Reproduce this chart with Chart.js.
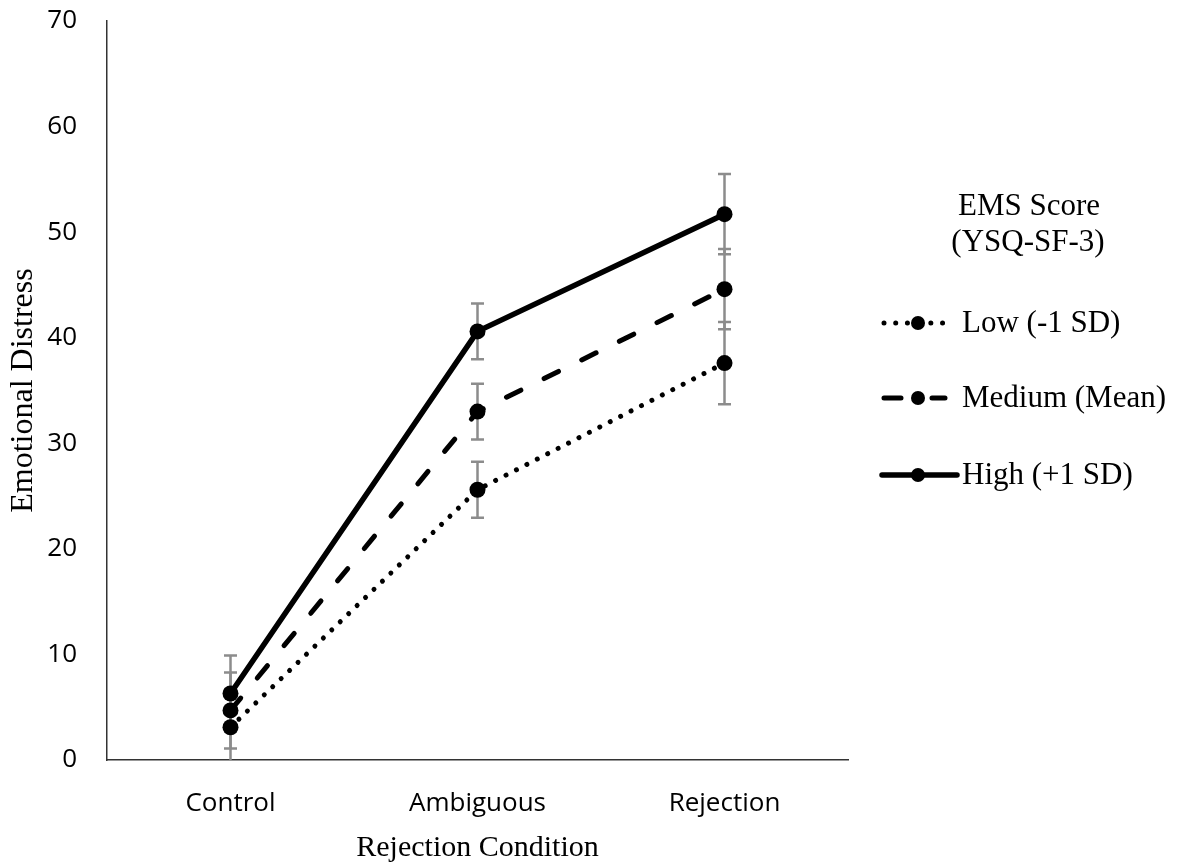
<!DOCTYPE html>
<html>
<head>
<meta charset="utf-8">
<script src="https://cdn.jsdelivr.net/npm/chart.js@4.4.1/dist/chart.umd.min.js"></script>
<style>
  html, body { margin: 0; padding: 0; background: #ffffff; }
  #wrap { width: 1189px; height: 865px; position: relative; }
</style>
</head>
<body>
<div id="wrap"><canvas id="c" width="1189" height="865"></canvas></div>
<script>
// ---- data ----
const categories = ['Control', 'Ambiguous', 'Rejection'];
const seriesNames = ['Low (-1 SD)', 'Medium (Mean)', 'High (+1 SD)'];
const lowValues = [3.1, 25.6, 37.6];
const mediumValues = [4.7, 33.0, 44.6];
const highValues = [6.3, 40.6, 51.7];
const lowErrors = [3.6, 2.65, 3.9];
const mediumErrors = [3.6, 2.65, 3.8];
const highErrors = [3.6, 2.65, 3.8];
const yTicks = [0, 10, 20, 30, 40, 50, 60, 70];
const legendTitle = ['EMS Score', '(YSQ-SF-3)'];
const xTitle = 'Rejection Condition';
const yTitle = 'Emotional Distress';

const serif = "'Liberation Serif', 'Times New Roman', serif";
const sans = "'Open Sans', 'DejaVu Sans', sans-serif";

const errorBars = {
  id: 'errorBars',
  beforeDatasetsDraw(chart) {
    const ctx = chart.ctx;
    const ys = chart.scales.y;
    const area = chart.chartArea;
    ctx.save();
    ctx.beginPath();
    ctx.rect(area.left, area.top - 5, area.right - area.left, area.bottom - area.top + 5);
    ctx.clip();
    ctx.strokeStyle = '#8c8c8c';
    ctx.lineWidth = 2.5;
    chart.data.datasets.forEach((ds, i) => {
      const meta = chart.getDatasetMeta(i);
      meta.data.forEach((pt, j) => {
        const v = ds.data[j], e = ds.errors[j];
        const yt = ys.getPixelForValue(v + e);
        const yb = ys.getPixelForValue(v - e);
        const x = pt.x;
        ctx.beginPath();
        ctx.moveTo(x, yt); ctx.lineTo(x, yb);
        ctx.moveTo(x - 6.5, yt); ctx.lineTo(x + 6.5, yt);
        ctx.moveTo(x - 6.5, yb); ctx.lineTo(x + 6.5, yb);
        ctx.stroke();
      });
    });
    ctx.restore();
  }
};

const customLegend = {
  id: 'customLegend',
  afterDraw(chart) {
    const ctx = chart.ctx;
    ctx.save();
    ctx.fillStyle = '#000';
    ctx.font = '31px ' + serif;
    ctx.textAlign = 'center';
    ctx.textBaseline = 'middle';
    ctx.fillText(legendTitle[0], 1029, 207);
    ctx.fillText(legendTitle[1], 1028, 243);
    const rows = [323, 398, 475];
    chart.data.datasets.forEach((ds, i) => {
      const y = rows[i];
      const x0 = 882, x1 = i === 2 ? 957 : 947, xd = 918;
      ctx.save();
      ctx.strokeStyle = '#000';
      ctx.lineWidth = ds.borderWidth;
      ctx.lineCap = ds.borderCapStyle || 'butt';
      if (i === 0) {
        ctx.setLineDash([0.01, 11.7]);
        ctx.beginPath(); ctx.moveTo(x0 + 2, y); ctx.lineTo(x1, y); ctx.stroke();
      } else if (i === 1) {
        ctx.beginPath(); ctx.moveTo(x0 + 2, y); ctx.lineTo(901, y);
        ctx.moveTo(932, y); ctx.lineTo(x1 - 2, y); ctx.stroke();
      } else {
        ctx.beginPath(); ctx.moveTo(x0, y); ctx.lineTo(x1, y); ctx.stroke();
      }
      ctx.restore();
      ctx.beginPath();
      ctx.fillStyle = '#000';
      ctx.arc(xd, y, 7, 0, Math.PI * 2);
      ctx.fill();
      ctx.font = '31px ' + serif;
      ctx.textAlign = 'left';
      ctx.textBaseline = 'middle';
      ctx.fillText(ds.label, 962, y + 1);
    });
    ctx.restore();
  }
};

new Chart(document.getElementById('c'), {
  type: 'line',
  data: {
    labels: categories,
    datasets: [
      { label: seriesNames[0], data: lowValues, errors: lowErrors,
        borderColor: '#000', backgroundColor: '#000', borderWidth: 5,
        borderDash: [0.01, 11.7], borderCapStyle: 'round',
        pointRadius: 8, pointBorderWidth: 0, pointBackgroundColor: '#000' },
      { label: seriesNames[1], data: mediumValues, errors: mediumErrors,
        borderColor: '#000', backgroundColor: '#000', borderWidth: 5,
        borderDash: [16, 26], borderCapStyle: 'round',
        pointRadius: 8, pointBorderWidth: 0, pointBackgroundColor: '#000' },
      { label: seriesNames[2], data: highValues, errors: highErrors,
        borderColor: '#000', backgroundColor: '#000', borderWidth: 5.5,
        borderCapStyle: 'round',
        pointRadius: 8, pointBorderWidth: 0, pointBackgroundColor: '#000' }
    ]
  },
  options: {
    responsive: false,
    animation: false,
    layout: { padding: { top: 21, right: 341, bottom: 0, left: 0 } },
    plugins: { legend: { display: false }, tooltip: { enabled: false } },
    scales: {
      x: {
        type: 'category',
        offset: true,
        grid: { display: true, drawOnChartArea: false, drawTicks: false },
        border: { display: true, color: '#333', width: 1.5 },
        ticks: { color: '#000', font: { family: sans, size: 26 }, padding: 28, maxRotation: 0 },
        title: { display: true, text: xTitle, color: '#000', font: { family: serif, size: 30 }, padding: { top: 0, bottom: -1 } },
        afterFit(s) { s.height = 105; }
      },
      y: {
        min: 0, max: 70,
        afterBuildTicks(s) { s.ticks = yTicks.map(v => ({ value: v })); },
        grid: { display: true, drawOnChartArea: false, drawTicks: false },
        border: { display: true, color: '#333', width: 1.5 },
        ticks: { color: '#000', font: { family: sans, size: 26 }, padding: 30 },
        title: { display: true, text: yTitle, color: '#000', font: { family: serif, size: 32 }, padding: { top: 4, bottom: 0 } },
        afterFit(s) { s.width = 107; s.paddingTop = 0; s.paddingBottom = 0; }
      }
    }
  },
  plugins: [errorBars, customLegend]
});
</script>
</body>
</html>
